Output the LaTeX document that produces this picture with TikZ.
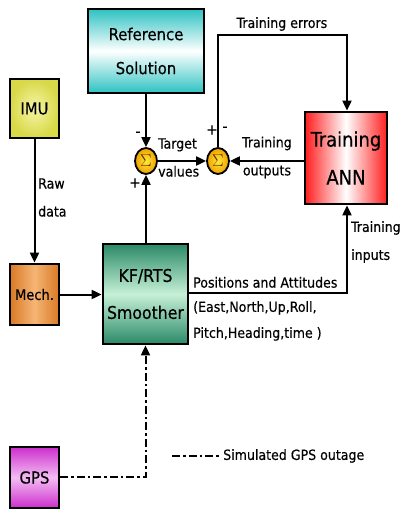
\documentclass[tikz,border=0pt]{standalone}
\usepackage{fontspec}
\setmainfont{DejaVu Sans Condensed}[FakeBold=0.4]
\usetikzlibrary{arrows.meta,shapes.geometric}
\definecolor{refc}{HTML}{2EC2C2}
\definecolor{annc}{HTML}{FF1E1E}
\definecolor{kfc}{HTML}{2A8A68}
\definecolor{kfm}{HTML}{C6F0D6}
\definecolor{imuc}{HTML}{D8D848}
\definecolor{imum}{HTML}{F6F6A8}
\definecolor{mechc}{HTML}{D97A26}
\definecolor{mechm}{HTML}{F6B575}
\definecolor{gpsc}{HTML}{CC2ECC}
\definecolor{gpsm}{HTML}{F4BCF4}
\definecolor{sigo}{HTML}{F0A000}
\definecolor{sigi}{HTML}{FFE83A}
\definecolor{sigt}{HTML}{5A3000}
\begin{document}
\begin{tikzpicture}[x=1pt,y=-1pt,
  blk/.style={draw=black, line width=2.8pt, inner sep=0pt, align=center, font=\fontsize{16.5}{34}\selectfont},
  sig/.style={ellipse, draw=black, line width=1.8pt, minimum width=22pt, minimum height=26pt, inner sep=0pt, inner color=sigi, outer color=sigo, text=sigt, font=\fontsize{17}{17}\selectfont},
  conn/.style={line width=2pt, -{Triangle[length=10pt,width=9pt]}},
  plain/.style={line width=2pt},
  dd/.style={dash pattern=on 8pt off 3pt on 2.5pt off 3pt},
  lbl/.style={font=\fontsize{14}{28}\selectfont, inner sep=0pt, align=left},
  pm/.style={font=\fontsize{15}{15}\selectfont, inner sep=0pt}
]
\useasboundingbox (0,0) rectangle (401,510);
% blocks
\node[blk, minimum width=116pt, minimum height=84pt, top color=refc, bottom color=refc, middle color=white] (ref) at (146,51) {Reference\\Solution};
\node[blk, minimum width=49pt, minimum height=59pt, inner color=imum, outer color=imuc] (imu) at (34.5,108.5) {IMU};
\node[blk, minimum width=82pt, minimum height=92pt, left color=annc, right color=annc, middle color=white, font=\fontsize{20}{38}\selectfont] (ann) at (346,158) {Training\\ANN};
\node[blk, minimum width=49pt, minimum height=61pt, left color=mechc, right color=mechc, middle color=mechm, font=\fontsize{14.5}{14}\selectfont] (mech) at (34.5,294.5) {Mech.};
\node[blk, minimum width=85pt, minimum height=100pt, top color=kfc, bottom color=kfc, middle color=kfm, font=\fontsize{17.5}{37}\selectfont] (kf) at (145.5,294) {KF/RTS\\Smoother};
\node[blk, minimum width=49pt, minimum height=61pt, top color=gpsc, bottom color=gpsc, middle color=gpsm] (gps) at (34.5,477.5) {GPS};
% summing junctions
\node[sig] (s1) at (146,161) {$\Sigma$};
\node[sig] (s2) at (218,161) {$\Sigma$};
% coordinates
\coordinate (te) at (347,35);
\coordinate (ti) at (347,293);
\coordinate (gg) at (145.5,477);
\coordinate (lg1) at (172,456);
\coordinate (lg2) at (220,456);
% connectors
\draw[conn] (ref) -- (s1);
\draw[conn] (s1 |- kf.north) -- (s1.south);
\draw[conn] (s1) -- (s2);
\draw[conn] (ann.west |- s2) -- (s2);
\draw[conn] (s2.north) |- (te) -- (te |- ann.north);
\draw[conn] (imu) -- (mech);
\draw[conn] (mech.east) -- (mech.east -| kf.west);
\draw[conn] (kf.east |- ti) -- (ti) -- (ti |- ann.south);
\draw[conn, dd] (gps.east |- gg) -- (gg) -- (gg |- kf.south);
\draw[plain, dd] (lg1) -- (lg2);
% labels
\node[lbl, anchor=south] (lte) at (282,31) {Training errors};
\node[pm] (m1) at (138,134) {-};
\node[pm] (p1) at (135,183) {+};
\node[pm] (p2) at (212,130) {+};
\node[pm] (m2) at (225,129) {-};
\node[lbl, anchor=west] (ltv) at (158,157.5) {Target\\values};
\node[lbl, anchor=center, align=center] (lto) at (267,157.5) {Training\\outputs};
\node[lbl, anchor=west] (lrd) at (38,197.5) {Raw\\data};
\node[lbl, anchor=west] (lti) at (351,242) {Training\\inputs};
\node[lbl, anchor=south west] (lpa) at (193,288) {Positions and Attitudes};
\node[lbl, anchor=north west, font=\fontsize{14}{26}\selectfont] (lea) at (193,301) {(East,North,Up,Roll,\\Pitch,Heading,time )};
\node[lbl, anchor=west] (lgo) at (223,456) {Simulated GPS outage};
\end{tikzpicture}
\end{document}
